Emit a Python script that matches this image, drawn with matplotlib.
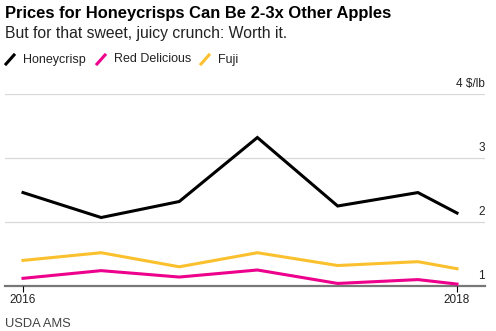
import matplotlib
matplotlib.use("Agg")
import matplotlib.pyplot as plt
from matplotlib.lines import Line2D
import matplotlib.transforms as mtransforms

plt.rcParams['font.family'] = ['Liberation Sans', 'DejaVu Sans']

# Price observations (fractional year) and $/lb values
dates = [2016.0, 2016.36, 2016.72, 2017.08, 2017.45, 2017.82, 2018.0]
honeycrisp = [2.46, 2.07, 2.32, 3.32, 2.25, 2.46, 2.14]
red_delicious = [1.12, 1.24, 1.14, 1.25, 1.04, 1.10, 1.03]
fuji = [1.40, 1.52, 1.30, 1.52, 1.32, 1.38, 1.27]

series_names = ["Honeycrisp", "Red Delicious", "Fuji"]
series_colors = ["#000000", "#ec008c", "#fbc02d"]

y_ticks = [1, 2, 3, 4]
y_tick_labels = ["1", "2", "3", "4 $/lb"]
x_ticks = [2016, 2018]
x_tick_labels = ["2016", "2018"]

W, H = 496, 331
fig = plt.figure(figsize=(W / 100, H / 100), dpi=100)

# axes area in pixels: left 5, right 485, top 94 (y=4), bottom 286 (y=1)
left, right, top, bottom = 5, 485, 94, 286
ax = fig.add_axes([left / W, 1 - bottom / H, (right - left) / W, (bottom - top) / H])
ax.set_xlim(2015.917, 2018.129)
ax.set_ylim(1, 4)
ax.set_facecolor("none")

for s in ["top", "right", "left"]:
    ax.spines[s].set_visible(False)
ax.spines["bottom"].set_color("#777777")
ax.spines["bottom"].set_linewidth(1.6)
ax.spines["bottom"].set_zorder(1)

# gridlines with value labels sitting just above them, right-aligned
offset = mtransforms.ScaledTranslation(0, 4 / 100, fig.dpi_scale_trans)
for v, lab in zip(y_ticks, y_tick_labels):
    if v != 1:
        ax.axhline(v, color="#d8d8d8", lw=0.9, zorder=0)
    ax.text(1.0, v, lab, transform=ax.get_yaxis_transform() + offset,
            ha="right", va="bottom", fontsize=8.5, color="#222222")
ax.set_yticks([])

ax.set_xticks(x_ticks)
ax.set_xticklabels(x_tick_labels, fontsize=8.5, color="#222222")
ax.tick_params(axis="x", length=4, width=0.8, color="#000000", pad=2)

for vals, c in zip([honeycrisp, red_delicious, fuji], series_colors):
    ax.plot(dates, vals, color=c, lw=2.2, solid_joinstyle="miter", zorder=3, clip_on=False)

# Title, subtitle, legend, source
fig.text(5 / W, 1 - 18 / H, "Prices for Honeycrisps Can Be 2-3x Other Apples",
         fontsize=11.9, fontweight="bold", ha="left", va="baseline", color="#000000")
fig.text(5 / W, 1 - 38 / H, "But for that sweet, juicy crunch: Worth it.",
         fontsize=11.3, ha="left", va="baseline", color="#222222")

legend_x = [6, 97, 201]
for x0, name, c in zip(legend_x, series_names, series_colors):
    fig.add_artist(Line2D([x0 / W, (x0 + 8) / W], [1 - 64 / H, 1 - 55 / H],
                          color=c, lw=2.2, transform=fig.transFigure))
    fig.text((x0 + 17) / W, 1 - 59.5 / H, name, fontsize=9, ha="left",
             va="center", color="#222222")

fig.text(5 / W, 1 - 327 / H, "USDA AMS", fontsize=9.3, ha="left",
         va="baseline", color="#444444")

fig.savefig("out.png", dpi=100)
